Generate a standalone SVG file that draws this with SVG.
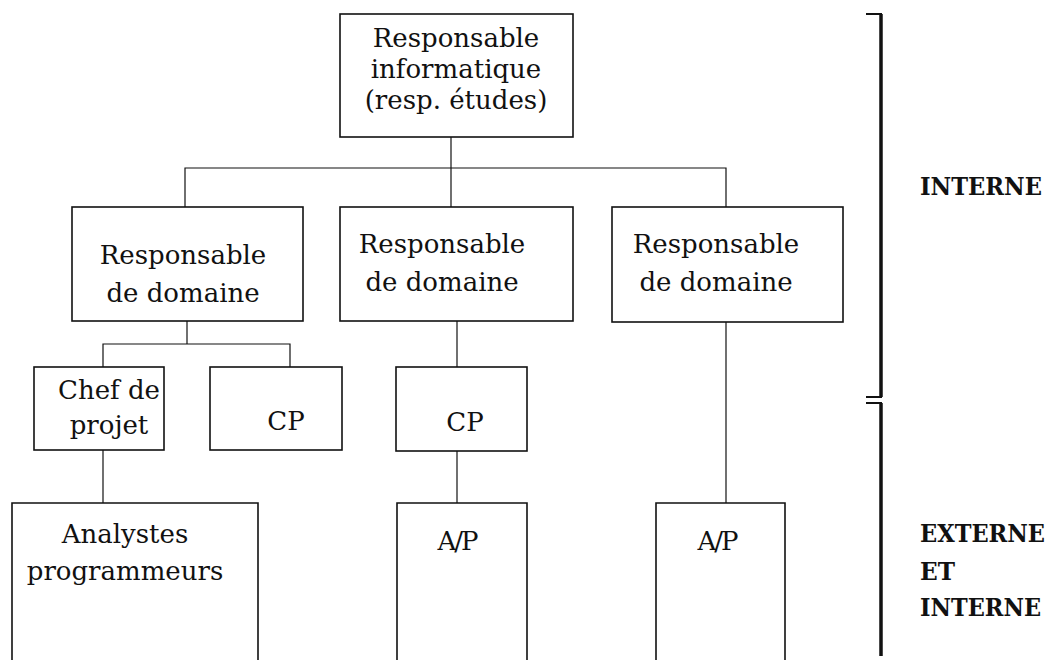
<svg xmlns="http://www.w3.org/2000/svg" width="1060" height="660" viewBox="0 0 1060 660">
<style>
.box{fill:none;stroke:#111;stroke-width:1.6}
.con{fill:none;stroke:#111;stroke-width:1.2}
.br{fill:none;stroke:#111;stroke-width:3.5}
.tk{fill:none;stroke:#111;stroke-width:2}
.t{font-family:"DejaVu Serif","Liberation Serif",serif;font-size:26px;fill:#111;text-anchor:middle}
.b{font-family:"DejaVu Serif","Liberation Serif",serif;font-size:24px;font-weight:bold;fill:#111}
</style>
<rect width="1060" height="660" fill="#fff"/>
<g id="connectors">
<path class="con" d="M451,137 V207"/>
<path class="con" d="M185,207 V168 H726 V207"/>
<path class="con" d="M187,321 V344"/>
<path class="con" d="M103,367 V344 H290 V367"/>
<path class="con" d="M457,321 V367"/>
<path class="con" d="M457,451 V503"/>
<path class="con" d="M726,322 V503"/>
<path class="con" d="M103,450 V503"/>
</g>
<g id="n-top">
<rect class="box" x="340" y="14" width="233" height="123"/>
<text class="t" x="456" y="47">Responsable</text>
<text class="t" x="456" y="78">informatique</text>
<text class="t" x="456" y="109">(resp. études)</text>
</g>
<g id="n-dom1">
<rect class="box" x="72" y="207" width="231" height="114"/>
<text class="t" x="183" y="264">Responsable</text>
<text class="t" x="183" y="302">de domaine</text>
</g>
<g id="n-dom2">
<rect class="box" x="340" y="207" width="233" height="114"/>
<text class="t" x="442" y="253">Responsable</text>
<text class="t" x="442" y="291">de domaine</text>
</g>
<g id="n-dom3">
<rect class="box" x="612" y="207" width="231" height="115"/>
<text class="t" x="716" y="253">Responsable</text>
<text class="t" x="716" y="291">de domaine</text>
</g>
<g id="n-chef">
<rect class="box" x="34" y="367" width="130" height="83"/>
<text class="t" x="109" y="399">Chef de</text>
<text class="t" x="109" y="434">projet</text>
</g>
<g id="n-cp1">
<rect class="box" x="210" y="367" width="132" height="83"/>
<text class="t" x="286" y="430">CP</text>
</g>
<g id="n-cp2">
<rect class="box" x="396" y="367" width="131" height="84"/>
<text class="t" x="465" y="431">CP</text>
</g>
<g id="n-analystes">
<path class="box" d="M12,662 V503 H258 V662"/>
<text class="t" x="125" y="543">Analystes</text>
<text class="t" x="125" y="580">programmeurs</text>
</g>
<g id="n-ap2">
<path class="box" d="M397,662 V503 H527 V662"/>
<text class="t" x="457" y="550" font-size="28" letter-spacing="-2">A/P</text>
</g>
<g id="n-ap3">
<path class="box" d="M656,662 V503 H785 V662"/>
<text class="t" x="717" y="550" font-size="28" letter-spacing="-2">A/P</text>
</g>
<g id="brackets">
<path class="br" d="M881,14 V397"/>
<path class="tk" d="M866,14 H882 M866,397 H882"/>
<path class="br" d="M881,403 V656"/>
<path class="tk" d="M866,403 H882"/>
</g>
<g id="labels">
<text class="b" x="920" y="195" textLength="122" lengthAdjust="spacingAndGlyphs">INTERNE</text>
<text class="b" x="920" y="542" textLength="125" lengthAdjust="spacingAndGlyphs">EXTERNE</text>
<text class="b" x="920" y="580" textLength="35" lengthAdjust="spacingAndGlyphs">ET</text>
<text class="b" x="920" y="616" textLength="121" lengthAdjust="spacingAndGlyphs">INTERNE</text>
</g>
</svg>
